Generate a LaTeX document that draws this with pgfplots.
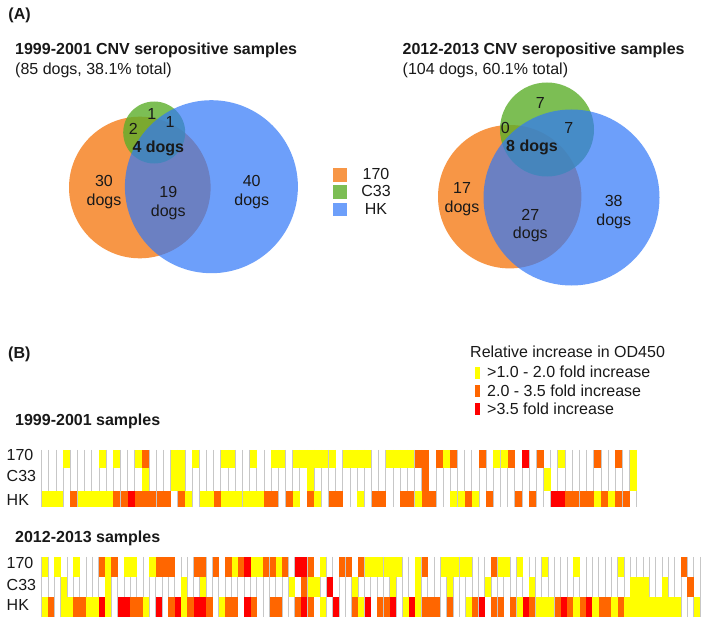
\documentclass[border=0pt]{standalone}
\usepackage{pgfplots}
\pgfplotsset{compat=1.18}
\usepackage{pgfplotstable}
\usepackage{fontspec}
\setmainfont{Liberation Sans}
\definecolor{vorange}{RGB}{247,150,70}
\definecolor{vgreen}{RGB}{92,174,42}
\definecolor{vblue}{RGB}{48,119,248}
\definecolor{hy}{RGB}{255,255,0}
\definecolor{ho}{RGB}{255,102,0}
\definecolor{hr}{RGB}{255,0,0}
\definecolor{txt}{RGB}{25,25,25}
\newcommand\fs{\fontsize{16pt}{19pt}\selectfont}

% heat-map cells (width x height in px = pt)
\pgfdeclareplotmark{ha}{\pgfpathrectangle{\pgfpoint{-3.5pt}{-9pt}}{\pgfpoint{7pt}{18pt}}\pgfusepathqfill}
\pgfdeclareplotmark{hb}{\pgfpathrectangle{\pgfpoint{-3.5pt}{-11.75pt}}{\pgfpoint{7pt}{23.5pt}}\pgfusepathqfill}
\pgfdeclareplotmark{hc}{\pgfpathrectangle{\pgfpoint{-3.5pt}{-7.75pt}}{\pgfpoint{7pt}{15.5pt}}\pgfusepathqfill}
\pgfdeclareplotmark{hd}{\pgfpathrectangle{\pgfpoint{-3.08pt}{-10pt}}{\pgfpoint{6.16pt}{20pt}}\pgfusepathqfill}
\pgfdeclareplotmark{lg}{\pgfpathrectangle{\pgfpoint{-2.75pt}{-6pt}}{\pgfpoint{5.5pt}{12pt}}\pgfusepathqfill}
\pgfdeclareplotmark{vl}{\pgfpathrectangle{\pgfpoint{-7.3pt}{-6.75pt}}{\pgfpoint{14.6pt}{13.5pt}}\pgfusepathqfill}
\pgfdeclareplotmark{disc}{\pgfpathcircle{\pgfpointorigin}{\pgfplotmarksize}\pgfusepathqfill}

\pgfplotsset{heat/.style={scatter, only marks, scatter src=explicit symbolic,
  scatter/classes={0={fill opacity=0,draw opacity=0},1={fill=hy,draw=none},2={fill=ho,draw=none},3={fill=hr,draw=none}}},
  hm/.style={scale only axis, y dir=reverse, axis line style={draw=none}, ytick=\empty,
  xticklabels={}, xticklabel style={inner sep=0pt, font=\tiny},
  major tick length=0pt, xmajorgrids, grid style={draw=black!22, line width=0.9pt}, clip=false},
  px/.style={scale only axis, width=704pt, height=623pt, at={(0pt,0pt)}, anchor=south west,
  xmin=0, xmax=704, ymin=0, ymax=623, y dir=reverse,
  axis line style={draw=none}, xtick=\empty, ytick=\empty, clip=false}}

% 1999-2001: column, 170, C33, HK  (0 none, 1 >1.0-2.0, 2 2.0-3.5, 3 >3.5)
\pgfplotstableread{
col a b c
0 0 0 1
1 0 0 1
2 0 0 1
3 1 0 0
4 0 0 2
5 0 0 1
6 0 0 1
7 0 0 1
8 1 0 1
9 0 0 1
10 1 0 2
11 0 0 2
12 0 0 3
13 1 0 2
14 2 1 2
15 0 0 2
16 0 0 2
17 0 0 2
18 1 1 0
19 1 1 2
20 0 0 1
21 1 0 0
22 0 0 1
23 0 0 1
24 0 0 2
25 1 0 1
26 1 0 1
27 0 0 1
28 0 0 1
29 1 0 1
30 0 0 1
31 0 0 2
32 1 0 2
33 1 0 0
34 0 0 2
35 1 0 1
36 1 0 0
37 1 1 2
38 1 0 1
39 1 0 0
40 1 0 2
41 0 0 2
42 1 0 0
43 1 0 0
44 1 0 1
45 1 0 0
46 0 0 2
47 0 0 2
48 1 0 0
49 1 0 0
50 1 0 2
51 1 0 2
52 2 0 1
53 2 2 2
54 0 0 2
55 2 0 0
56 1 0 0
57 2 0 1
58 0 0 1
59 0 0 2
60 0 0 1
61 2 0 0
62 0 0 2
63 1 0 0
64 1 0 0
65 2 0 0
66 0 0 2
67 3 0 0
68 0 0 2
69 2 0 0
70 0 1 0
71 0 0 3
72 1 0 3
73 0 0 2
74 0 0 2
75 0 0 2
76 0 0 2
77 2 0 1
78 0 0 2
79 0 0 1
80 2 0 2
81 0 0 2
82 1 1 0
}\hmA

% 2012-2013
\pgfplotstableread{
col a b c
0 1 0 1
1 0 0 2
2 1 0 0
3 0 1 1
4 0 0 1
5 1 0 2
6 0 0 2
7 0 0 1
8 0 0 1
9 2 0 3
10 1 1 1
11 2 0 0
12 0 0 3
13 1 0 3
14 1 0 2
15 0 0 2
16 0 0 1
17 1 0 0
18 2 0 3
19 2 0 0
20 2 0 2
21 0 0 3
22 0 1 1
23 0 0 2
24 2 0 3
25 2 1 3
26 0 0 2
27 2 0 0
28 0 0 1
29 2 0 2
30 1 0 2
31 2 0 0
32 3 0 3
33 1 0 2
34 1 0 0
35 2 0 0
36 2 0 2
37 1 0 2
38 2 0 0
39 0 1 0
40 3 0 2
41 3 2 3
42 2 1 2
43 0 1 0
44 1 0 1
45 0 3 0
46 0 0 3
47 2 0 0
48 2 0 0
49 0 1 2
50 2 0 1
51 1 0 3
52 1 0 0
53 1 0 2
54 1 0 2
55 1 1 3
56 1 0 0
57 0 0 1
58 0 0 3
59 1 1 1
60 2 0 2
61 0 0 2
62 0 0 2
63 1 0 0
64 1 1 2
65 1 0 0
66 1 0 0
67 1 0 1
68 0 0 2
69 0 0 3
70 0 1 0
71 2 0 2
72 1 0 2
73 1 0 0
74 0 0 2
75 1 0 1
76 0 0 3
77 0 1 2
78 0 0 1
79 1 0 1
80 0 0 1
81 0 0 2
82 0 0 3
83 0 0 2
84 1 0 1
85 0 0 2
86 0 0 3
87 0 0 1
88 0 0 2
89 0 0 2
90 0 0 1
91 1 0 2
92 0 0 1
93 0 1 1
94 0 1 1
95 0 1 1
96 0 0 1
97 0 0 1
98 0 1 1
99 0 0 1
100 0 0 1
101 2 0 0
102 0 2 0
103 0 0 1
}\hmB

\begin{document}
\begin{tikzpicture}
% ---------- master axis in pixel units: shapes ----------
\begin{axis}[px, axis background/.style={fill=white}]
% Venn 1999-2001
\addplot[only marks, mark=disc, mark size=70.8pt, mark options={fill=vorange}] coordinates {(139.8,187.5)};
\addplot[only marks, mark=disc, mark size=31pt, mark options={fill=vgreen, fill opacity=0.8}] coordinates {(154.2,132.5)};
\addplot[only marks, mark=disc, mark size=86.5pt, mark options={fill=vblue, fill opacity=0.7}] coordinates {(211.4,186.7)};
% Venn 2012-2013
\addplot[only marks, mark=disc, mark size=71.7pt, mark options={fill=vorange}] coordinates {(509.7,196.7)};
\addplot[only marks, mark=disc, mark size=47pt, mark options={fill=vgreen, fill opacity=0.8}] coordinates {(547,129.5)};
\addplot[only marks, mark=disc, mark size=88pt, mark options={fill=vblue, fill opacity=0.7}] coordinates {(571.5,197.5)};
% Venn legend swatches
\addplot[only marks, mark=vl, mark options={fill=vorange}] coordinates {(340,175)};
\addplot[only marks, mark=vl, mark options={fill=vgreen, fill opacity=0.8}] coordinates {(340,192)};
\addplot[only marks, mark=vl, mark options={fill=vblue, fill opacity=0.7}] coordinates {(340,209.7)};
% heat legend swatches
\addplot[heat, mark=lg] coordinates {(477.5,372.5) [1] (477.5,391) [2] (477.5,409) [3]};
\end{axis}

% ---------- overlay axis: all texts ----------
\begin{axis}[px]
\begin{scope}[every node/.style={inner sep=0pt, font=\fs, text=txt}]
\node[anchor=base west] at (axis cs:8.3,19.5) {\textbf{(A)}};
\node[anchor=base west] at (axis cs:15,54.5) {\textbf{1999-2001 CNV seropositive samples}};
\node[anchor=base west] at (axis cs:15,75) {(85 dogs, 38.1\% total)};
\node[anchor=base west] at (axis cs:402.5,55) {\textbf{2012-2013 CNV seropositive samples}};
\node[anchor=base west] at (axis cs:402.5,75) {(104 dogs, 60.1\% total)};

% Venn 1 counts
\node[anchor=base] at (axis cs:151.7,120) {1};
\node[anchor=base] at (axis cs:170,128) {1};
\node[anchor=base] at (axis cs:133.3,135) {2};
\node[anchor=base] at (axis cs:158.3,153) {\textbf{4 dogs}};
\node[anchor=base] at (axis cs:104,186.5) {30};
\node[anchor=base] at (axis cs:104,205) {dogs};
\node[anchor=base] at (axis cs:168.3,197.3) {19};
\node[anchor=base] at (axis cs:168.3,216) {dogs};
\node[anchor=base] at (axis cs:251.7,186) {40};
\node[anchor=base] at (axis cs:251.7,205) {dogs};

% Venn 2 counts
\node[anchor=base] at (axis cs:540.3,108.3) {7};
\node[anchor=base] at (axis cs:505.3,133.3) {0};
\node[anchor=base] at (axis cs:568.7,133.3) {7};
\node[anchor=base] at (axis cs:532,151.7) {\textbf{8 dogs}};
\node[anchor=base] at (axis cs:462,193.3) {17};
\node[anchor=base] at (axis cs:462,212.3) {dogs};
\node[anchor=base] at (axis cs:530.3,220) {27};
\node[anchor=base] at (axis cs:530.3,238.3) {dogs};
\node[anchor=base] at (axis cs:613.7,206.7) {38};
\node[anchor=base] at (axis cs:613.7,225.7) {dogs};

% Venn legend labels
\node[anchor=base] at (axis cs:376,179) {170};
\node[anchor=base] at (axis cs:376,196.7) {C33};
\node[anchor=base] at (axis cs:376,214) {HK};

% Part B
\node[anchor=base west] at (axis cs:8,358) {\textbf{(B)}};
\node[anchor=base west] at (axis cs:470,357.5) {Relative increase in OD450};
\node[anchor=base west] at (axis cs:487,377) {>1.0 - 2.0 fold increase};
\node[anchor=base west] at (axis cs:487,396) {2.0 - 3.5 fold increase};
\node[anchor=base west] at (axis cs:487,414) {>3.5 fold increase};
\node[anchor=base west] at (axis cs:15,425.5) {\textbf{1999-2001 samples}};
\node[anchor=base west] at (axis cs:15,542.5) {\textbf{2012-2013 samples}};

\node[anchor=base west] at (axis cs:6.5,460) {170};
\node[anchor=base west] at (axis cs:6.5,481.7) {C33};
\node[anchor=base west] at (axis cs:6.5,505) {HK};
\node[anchor=base west] at (axis cs:6.5,568.3) {170};
\node[anchor=base west] at (axis cs:6.5,590) {C33};
\node[anchor=base west] at (axis cs:6.5,610.7) {HK};
\end{scope}
\end{axis}

% ---------- heat map 1999-2001 ----------
\begin{axis}[hm, at={(41.7pt,173pt)}, anchor=north west,
  width=595.1pt, height=57pt, xmin=-0.5, xmax=82.5, ymin=450, ymax=507,
  xtick={-0.5,0.5,...,82.5}]
\addplot[heat, mark=ha] table[x=col, y expr=459, meta=a] {\hmA};
\addplot[heat, mark=hb] table[x=col, y expr=479.75, meta=b] {\hmA};
\addplot[heat, mark=hc] table[x=col, y expr=499.25, meta=c] {\hmA};
\end{axis}

% ---------- heat map 2012-2013 ----------
\begin{axis}[hm, at={(41.7pt,66pt)}, anchor=north west,
  width=658.3pt, height=60pt, xmin=-0.5, xmax=103.5, ymin=557, ymax=617,
  xtick={-0.5,0.5,...,103.5}]
\addplot[heat, mark=hd] table[x=col, y expr=567, meta=a] {\hmB};
\addplot[heat, mark=hd] table[x=col, y expr=587, meta=b] {\hmB};
\addplot[heat, mark=hd] table[x=col, y expr=607, meta=c] {\hmB};
\end{axis}
\end{tikzpicture}
\end{document}
